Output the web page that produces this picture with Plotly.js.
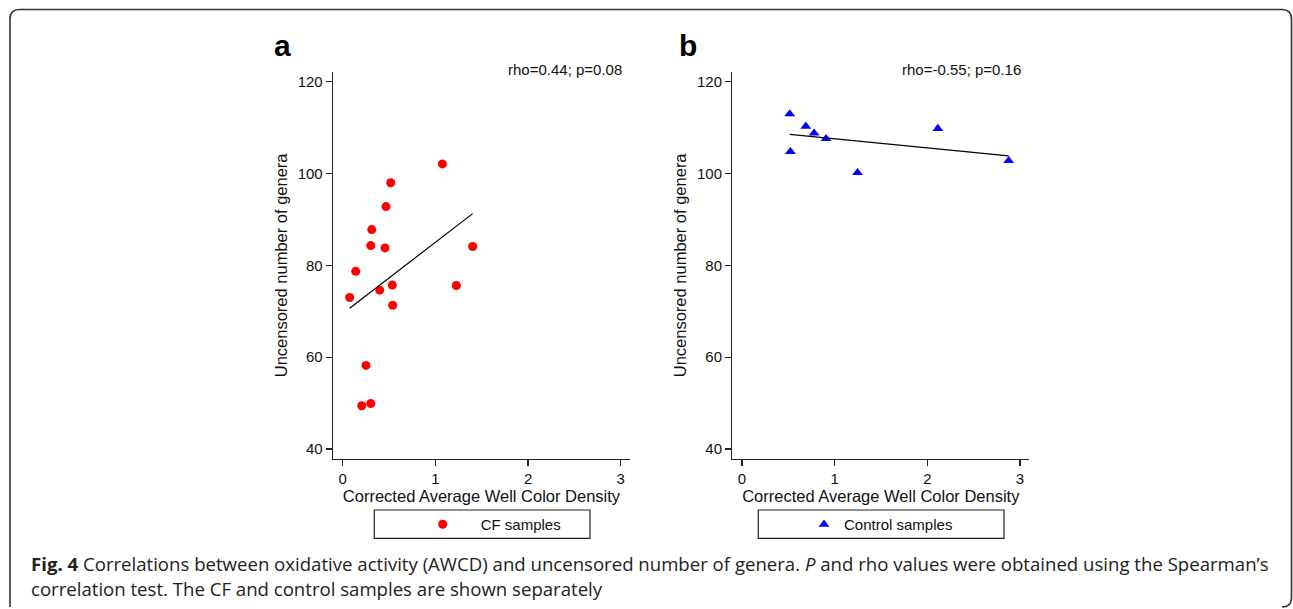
<!DOCTYPE html>
<html>
<head>
<meta charset="utf-8">
<script src="https://cdn.plot.ly/plotly-3.0.1.min.js"></script>
<style>
html,body{margin:0;padding:0;background:#fff;}
#chart{width:1293px;height:609px;}
</style>
</head>
<body>
<div id="chart"></div>
<script>
// ---- data ----
const cfX = [1.075, 0.518, 0.467, 0.313, 0.302, 0.456, 1.402, 0.140, 0.075, 0.399, 0.535, 1.226, 0.539, 0.251, 0.205, 0.302];
const cfY = [102.1, 98.0, 92.8, 87.8, 84.3, 83.8, 84.1, 78.7, 73.0, 74.6, 75.7, 75.6, 71.3, 58.2, 49.4, 49.9];
const ctrlX = [0.515, 0.688, 0.778, 0.907, 0.522, 1.246, 2.113, 2.877];
const ctrlY = [113.0, 110.3, 108.8, 107.6, 104.8, 100.2, 109.8, 102.8];
const xTicks = [0, 1, 2, 3];
const yTicks = [40, 60, 80, 100, 120];
const statA = "rho=0.44; p=0.08";
const statB = "rho=-0.55; p=0.16";
const legendNames = ["CF samples", "Control samples"];
const xTitle = "Corrected Average Well Color Density";
const yTitle = "Uncensored number of genera";
const caption1 = "<b>Fig. 4</b> Correlations between oxidative activity (AWCD) and uncensored number of genera. <i>P</i> and rho values were obtained using the Spearman\u2019s";
const caption2 = "correlation test. The CF and control samples are shown separately";

// least-squares fit line over the observed x span
function fit(xs, ys) {
  const n = xs.length;
  const mx = xs.reduce((a, b) => a + b, 0) / n;
  const my = ys.reduce((a, b) => a + b, 0) / n;
  let sxy = 0, sxx = 0;
  for (let i = 0; i < n; i++) { sxy += (xs[i] - mx) * (ys[i] - my); sxx += (xs[i] - mx) ** 2; }
  const b = sxy / sxx, a = my - b * mx;
  const lo = Math.min(...xs), hi = Math.max(...xs);
  return { x: [lo, hi], y: [a + b * lo, a + b * hi] };
}
const fitA = fit(cfX, cfY);
const fitB = fit(ctrlX, ctrlY);

const W = 1293, H = 609;
const FONT = "Liberation Sans, Arial, Helvetica, sans-serif";
const AX = "#222";

function axisX(d0, d1, anchor) {
  return {
    domain: [d0 / W, d1 / W], anchor: anchor, range: [-0.105, 3.1],
    showline: true, linecolor: AX, linewidth: 1.3, mirror: false,
    ticks: "outside", ticklen: 6, tickcolor: AX, tickwidth: 1.2,
    tickvals: xTicks, showgrid: false, zeroline: false,
    tickfont: { family: FONT, size: 15, color: "#111" },
    title: { text: xTitle, font: { family: FONT, size: 16.5, color: "#111" }, standoff: 0 },
    fixedrange: true
  };
}
function axisY(anchor) {
  return {
    domain: [1 - 459 / H, 1 - 71.7 / H], anchor: anchor, range: [37.8, 122.2],
    showline: true, linecolor: AX, linewidth: 1.3, mirror: false,
    ticks: "outside", ticklen: 6, tickcolor: AX, tickwidth: 1.2,
    tickvals: yTicks, showgrid: false, zeroline: false,
    tickfont: { family: FONT, size: 15, color: "#111" },
    title: { text: yTitle, font: { family: FONT, size: 16.5, color: "#111" }, standoff: 6 },
    fixedrange: true
  };
}

const traces = [
  { x: cfX, y: cfY, xaxis: "x", yaxis: "y", type: "scatter", mode: "markers", name: legendNames[0],
    marker: { color: "#ff0000", size: 9, symbol: "circle" }, legend: "legend" },
  { x: fitA.x, y: fitA.y, xaxis: "x", yaxis: "y", type: "scatter", mode: "lines", showlegend: false,
    line: { color: "#000", width: 1.2 } },
  { x: ctrlX, y: ctrlY, xaxis: "x2", yaxis: "y2", type: "scatter", mode: "markers", name: legendNames[1],
    marker: { color: "#0000ff", size: 9.5, symbol: "triangle-up" }, legend: "legend2" },
  { x: fitB.x, y: fitB.y, xaxis: "x2", yaxis: "y2", type: "scatter", mode: "lines", showlegend: false,
    line: { color: "#000", width: 1.2 } }
];

const legendCommon = {
  orientation: "h", yanchor: "middle", xanchor: "left", y: 1 - 524.5 / H,
  bgcolor: "rgba(0,0,0,0)", borderwidth: 0,
  font: { family: FONT, size: 15, color: "#111" }
};

const layout = {
  width: W, height: H,
  margin: { l: 0, r: 0, t: 0, b: 0 },
  paper_bgcolor: "#fff", plot_bgcolor: "#fff",
  showlegend: true,
  xaxis: axisX(333, 630, "y"),
  yaxis: axisY("x"),
  xaxis2: axisX(732.3, 1029.3, "y2"),
  yaxis2: axisY("x2"),
  legend: Object.assign({}, legendCommon, { x: 404.7 / W, itemwidth: 66 }),
  legend2: Object.assign({}, legendCommon, { x: 804 / W, itemwidth: 30 }),
  shapes: [
    { type: "rect", xref: "paper", yref: "paper", x0: 374.3 / W, x1: 590 / W, y0: 1 - 538.3 / H, y1: 1 - 510 / H,
      line: { color: "#222", width: 1.2 }, fillcolor: "rgba(0,0,0,0)" },
    { type: "rect", xref: "paper", yref: "paper", x0: 758.3 / W, x1: 1004 / W, y0: 1 - 538.3 / H, y1: 1 - 510 / H,
      line: { color: "#222", width: 1.2 }, fillcolor: "rgba(0,0,0,0)" },
    // rounded outer frame of the figure
    { type: "path", xref: "paper", yref: "paper",
      path: (function () {
        const px = v => (v / W).toFixed(5), py = v => (1 - v / H).toFixed(5);
        return "M" + px(10) + "," + py(607) + " L" + px(10) + "," + py(19) +
          " Q" + px(10) + "," + py(9.5) + " " + px(19.5) + "," + py(9.5) +
          " L" + px(1282) + "," + py(9.5) +
          " Q" + px(1291.5) + "," + py(9.5) + " " + px(1291.5) + "," + py(19) +
          " L" + px(1291.5) + "," + py(598) +
          " Q" + px(1291.5) + "," + py(607) + " " + px(1282) + "," + py(607);
      })(),
      line: { color: "#333", width: 1.6 } }
  ],
  annotations: [
    { text: "<b>a</b>", xref: "paper", yref: "paper", x: 282 / W, y: 1 - 45 / H, xanchor: "center", yanchor: "middle",
      showarrow: false, font: { family: FONT, size: 30, color: "#000" } },
    { text: "<b>b</b>", xref: "paper", yref: "paper", x: 688 / W, y: 1 - 45 / H, xanchor: "center", yanchor: "middle",
      showarrow: false, font: { family: FONT, size: 30, color: "#000" } },
    { text: statA, xref: "paper", yref: "paper", x: 623.5 / W, y: 1 - 70 / H, xanchor: "right", yanchor: "middle",
      showarrow: false, font: { family: FONT, size: 15, color: "#111" } },
    { text: statB, xref: "paper", yref: "paper", x: 1023 / W, y: 1 - 70 / H, xanchor: "right", yanchor: "middle",
      showarrow: false, font: { family: FONT, size: 15, color: "#111" } },
    { text: caption1, xref: "paper", yref: "paper", x: 29 / W, y: 1 - 563 / H, xanchor: "left", yanchor: "middle",
      showarrow: false, font: { family: "Open Sans, sans-serif", size: 18.6, color: "#222" } },
    { text: caption2, xref: "paper", yref: "paper", x: 29 / W, y: 1 - 588 / H, xanchor: "left", yanchor: "middle",
      showarrow: false, font: { family: "Open Sans, sans-serif", size: 18.6, color: "#222" } }
  ]
};

Plotly.newPlot("chart", traces, layout, { staticPlot: true, displayModeBar: false });
</script>
</body>
</html>
